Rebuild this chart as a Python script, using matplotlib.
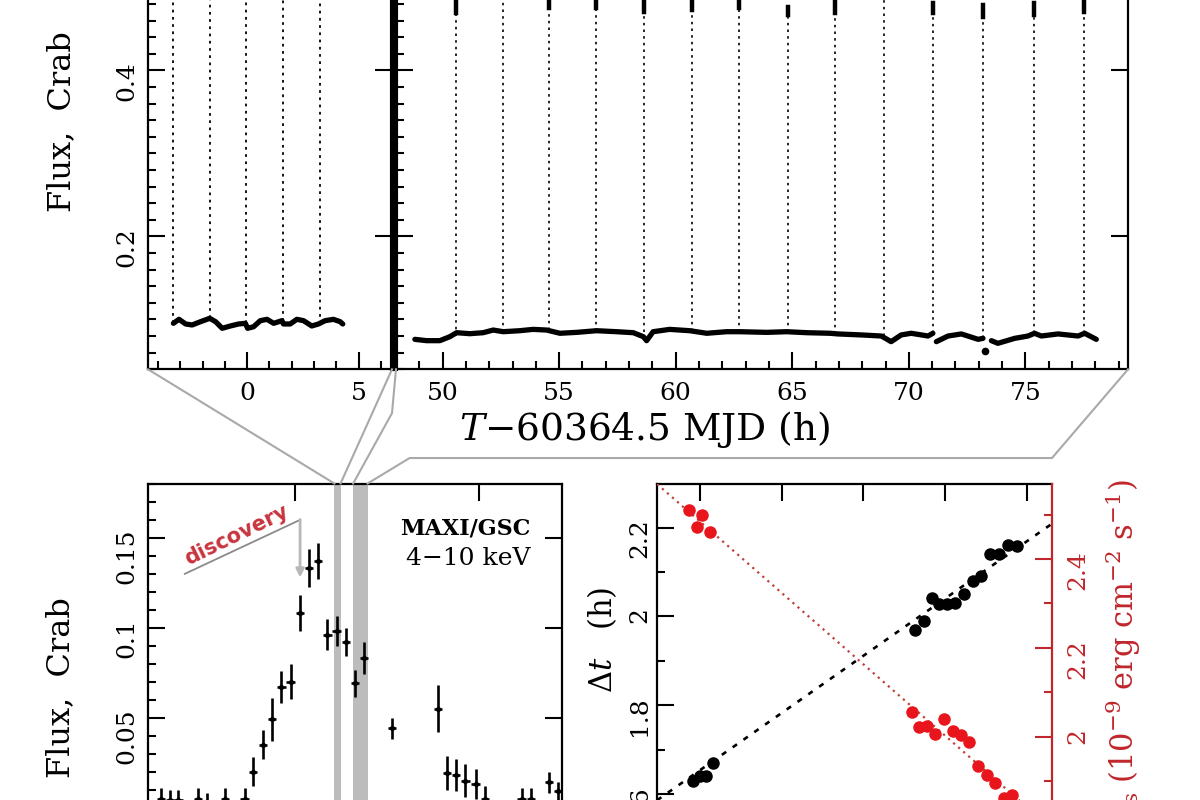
"""Burst train zoom (top) + MAXI light curve and burst recurrence (bottom)."""
import numpy as np
import matplotlib
matplotlib.use("Agg")
import matplotlib.pyplot as plt
from matplotlib.lines import Line2D
from matplotlib.ticker import MultipleLocator, FormatStrFormatter

plt.rcParams['font.family'] = ['DejaVu Serif']
plt.rcParams['mathtext.fontset'] = 'dejavuserif'

# ---- top: persistent flux between bursts (T - 60364.5 MJD, hours; Crab) ----
pers_t_left = [-3.31, -3.06, -2.76, -2.47, -2.09, -1.68, -1.42, -1.12, -0.75, -0.38,
               -0.08, 0.02, 0.29, 0.59, 0.89, 1.19, 1.56, 1.63, 1.93, 2.23,
               2.53, 2.90, 3.20, 3.50, 3.87, 4.17, 4.29]
pers_f_left = [0.0954, 0.1002, 0.0946, 0.0934, 0.0974, 0.1014, 0.0974, 0.0894, 0.0922, 0.0946,
               0.0954, 0.0894, 0.0913, 0.0986, 0.1002, 0.0954, 0.0986, 0.0946, 0.0946, 0.1002,
               0.0986, 0.0922, 0.0946, 0.0986, 0.1002, 0.0974, 0.0946]

pers_t_right = [48.81, 49.31, 49.88, 50.31, 50.60, 51.17, 51.74, 52.17, 52.60, 53.31,
                53.88, 54.46, 55.03, 55.75, 56.60, 57.46, 58.18, 58.61, 58.75, 59.03,
                59.74, 60.60, 61.33, 62.18, 62.76, 63.90, 64.76, 65.62, 66.62, 66.96,
                67.96, 68.82, 69.24, 69.67, 70.10, 70.82, 71.03, np.nan, 71.18, 71.68,
                72.25, 72.97, 73.18, np.nan, 73.54, 73.82, 74.54, 75.11, 75.39, 75.68,
                76.40, 77.26, 77.54, 78.04]
pers_f_right = [0.0761, 0.0745, 0.0745, 0.0793, 0.0841, 0.0829, 0.0841, 0.0873, 0.0853, 0.0865,
                0.0881, 0.0873, 0.0834, 0.0845, 0.0865, 0.0853, 0.0841, 0.0793, 0.0745, 0.0853,
                0.0881, 0.0865, 0.0834, 0.0853, 0.0853, 0.0845, 0.0853, 0.0841, 0.0834, 0.0826,
                0.0814, 0.0801, 0.0733, 0.0814, 0.0834, 0.0801, 0.0834, np.nan, 0.0733, 0.0801,
                0.0826, 0.0761, 0.0773, np.nan, 0.0745, 0.0713, 0.0773, 0.0801, 0.0834, 0.0801,
                0.0826, 0.0801, 0.0834, 0.0761]
outlier_t = [73.25]
outlier_f = [0.0624]

# bursts: onset time, flux at onset, peak, lower end of the peak plateau
burst_t_left = [-3.31, -1.69, -0.05, 1.59, 3.26]
burst_base_left = [0.0954, 0.1014, 0.0954, 0.0986, 0.0946]
burst_peak_left = [0.56, 0.55, 0.56, 0.55, 0.56]

burst_t_right = [50.59, 52.60, 54.58, 56.57, 58.65, 60.69, 62.73, 64.80, 66.83, 68.92,
                 71.04, 73.20, 75.36, 77.50]
burst_base_right = [0.0800, 0.0853, 0.0870, 0.0865, 0.0850, 0.0865, 0.0853, 0.0853, 0.0830, 0.0800,
                    0.0834, 0.0773, 0.0834, 0.0834]
burst_peak_right = [0.483, 0.530, 0.490, 0.490, 0.483, 0.488, 0.490, 0.477, 0.483, 0.520,
                    0.481, 0.479, 0.481, 0.483]
burst_plateau_right = [0.469, np.nan, 0.475, 0.475, 0.471, 0.473, 0.475, 0.467, 0.469, np.nan,
                       0.469, 0.465, 0.467, 0.471]

# ---- bottom left: MAXI/GSC 4-10 keV daily light curve ----
maxi_mjd = [60345.4, 60346.4, 60347.3, 60349.4, 60350.4, 60352.4, 60354.5, 60355.4, 60356.5, 60357.5,
            60358.5, 60359.5, 60360.5, 60361.5, 60362.5, 60363.5, 60364.5, 60365.5, 60366.5, 60367.5,
            60370.5, 60375.5, 60376.5, 60377.5, 60378.5, 60379.6, 60380.6, 60384.6, 60385.6, 60387.6,
            60388.6]
maxi_flux = [0.005, 0.004, 0.004, 0.005, 0.002, 0.005, 0.005, 0.020, 0.035, 0.049,
             0.067, 0.070, 0.108, 0.133, 0.137, 0.096, 0.098, 0.092, 0.069, 0.083,
             0.044, 0.055, 0.019, 0.018, 0.015, 0.013, 0.005, 0.005, 0.005, 0.014,
             0.009]
maxi_err = [0.006, 0.006, 0.006, 0.006, 0.006, 0.006, 0.006, 0.008, 0.008, 0.012,
            0.009, 0.0095, 0.010, 0.0105, 0.010, 0.0087, 0.0085, 0.008, 0.0076, 0.009,
            0.006, 0.013, 0.0095, 0.009, 0.009, 0.0085, 0.007, 0.006, 0.006, 0.006,
            0.005]
maxi_half_bin = 0.45
band_lo = [60364.26, 60366.30]
band_hi = [60364.93, 60367.87]
discovery_mjd = 60360.53

# ---- bottom right: recurrence time and persistent flux ----
dt_t = [-1.62, 0.00, 1.39, 3.18, 52.63, 54.69, 56.72, 58.51, 60.39, 62.35,
        64.63, 66.83, 68.71, 71.00, 73.19, 75.24, 77.45]
dt_h = [1.629, 1.641, 1.641, 1.669, 1.970, 1.990, 2.041, 2.028, 2.028, 2.030,
        2.050, 2.080, 2.091, 2.141, 2.141, 2.161, 2.159]
fp_t = [-2.69, -0.81, 0.58, 2.45, 51.75, 53.61, 55.50, 57.45, 59.73, 61.78,
        63.82, 65.85, 68.05, 70.10, 72.14, 74.42, 76.23]
fp = [2.510, 2.473, 2.499, 2.461, 2.056, 2.021, 2.024, 2.007, 2.039, 2.013,
      2.004, 1.989, 1.934, 1.914, 1.896, 1.861, 1.868]
fit_t = [-10.5, 86.0]
dt_fit = [1.586, 2.208]
fp_fit = [2.569, 1.793]

RED = "#e8161c"
DRED = "#c0262b"
W, H = 1200, 800
TICK_FS = 18


def px_axes(left, right, top, height):
    return [left / W, (H - top - height) / H, (right - left) / W, height / H]


def style(ax):
    for s in ax.spines.values():
        s.set_linewidth(1.6)
    ax.tick_params(which="both", direction="in", width=1.5, labelsize=TICK_FS)
    ax.tick_params(which="major", length=12)
    ax.tick_params(which="minor", length=6)


fig = plt.figure(figsize=(12, 8), dpi=100)
ax_tl = fig.add_axes(px_axes(148, 392, -128.7, 498))
ax_tr = fig.add_axes(px_axes(396, 1128, -128.7, 498))
ax_bl = fig.add_axes(px_axes(148, 562, 483.5, 414))
ax_br = fig.add_axes(px_axes(657, 1052, 484, 414))

# (a) top panels: bursts around T=0 and two days later
for ax in (ax_tl, ax_tr):
    style(ax)
    ax.set_ylim(0.04, 0.64)
    ax.yaxis.set_major_locator(MultipleLocator(0.2))
    ax.yaxis.set_minor_locator(MultipleLocator(0.02))
    ax.xaxis.set_major_locator(MultipleLocator(5))
    ax.xaxis.set_minor_locator(MultipleLocator(1))
    ax.yaxis.set_major_formatter(FormatStrFormatter("%g"))
    ax.tick_params(axis="x", pad=9)

ax_tl.set_xlim(-4.45, 6.5)
ax_tl.tick_params(axis="y", labelrotation=90, left=True, right=True, pad=7)
ax_tl.spines["right"].set_linewidth(3)
for t, b, p in zip(burst_t_left, burst_base_left, burst_peak_left):
    ax_tl.plot([t, t], [b, p], color="k", lw=1.3, ls=(0, (1.5, 2.5)))
ax_tl.plot(pers_t_left, pers_f_left, color="k", lw=3.8,
           solid_capstyle="round", solid_joinstyle="round")

ax_tr.set_xlim(48.0, 79.4)
ax_tr.tick_params(axis="y", left=True, right=True, labelleft=False)
ax_tr.spines["left"].set_linewidth(3)
for t, b, p, lo in zip(burst_t_right, burst_base_right, burst_peak_right, burst_plateau_right):
    ax_tr.plot([t, t], [b, p], color="k", lw=1.2, ls=(0, (1.5, 2.5)))
    if not np.isnan(lo):
        ax_tr.plot([t, t], [lo, p], color="k", lw=3.2)
ax_tr.plot(pers_t_right, pers_f_right, color="k", lw=3.8,
           solid_capstyle="round", solid_joinstyle="round")
ax_tr.plot(outlier_t, outlier_f, "o", color="k", ms=4.5)

ax_tl.text(-0.352, 0.497, "Flux,  Crab", transform=ax_tl.transAxes, rotation=90,
           ha="center", va="center", fontsize=23)
fig.text(645 / W, (H - 430) / H, r"$T$" + "\u221260364.5 MJD (h)",
         ha="center", va="center", fontsize=27)

# (b) bottom-left: MAXI light curve
style(ax_bl)
ax_bl.set_xlim(60344, 60389)
ax_bl.set_ylim(-0.05, 0.18)
ax_bl.xaxis.set_major_locator(MultipleLocator(20))
ax_bl.xaxis.set_minor_locator(MultipleLocator(2))
ax_bl.yaxis.set_major_locator(MultipleLocator(0.05))
ax_bl.yaxis.set_minor_locator(MultipleLocator(0.01))
ax_bl.yaxis.set_major_formatter(FormatStrFormatter("%g"))
ax_bl.tick_params(axis="y", labelrotation=90, left=True, right=True, pad=7)
ax_bl.tick_params(axis="x", top=True, bottom=True)
for lo, hi in zip(band_lo, band_hi):
    ax_bl.axvspan(lo, hi, color="#bcbcbc", lw=0, zorder=0)
ax_bl.errorbar(maxi_mjd, maxi_flux, yerr=maxi_err, xerr=maxi_half_bin, fmt="o",
               ms=2.8, color="k", elinewidth=1.9, capsize=0, zorder=3)
ax_bl.plot([60348.0, discovery_mjd], [0.1298, 0.1598], color="#8a8a8a", lw=1.3)
ax_bl.annotate("", xy=(discovery_mjd, 0.1278), xytext=(discovery_mjd, 0.1600),
               arrowprops=dict(arrowstyle="-|>", color="#b8b8b8", lw=2,
                               mutation_scale=12, shrinkA=0, shrinkB=0))
ax_bl.text(60353.6, 0.1515, "discovery", rotation=26, ha="center", va="center",
           color="#c9343e", fontsize=15, fontweight="bold", family="DejaVu Sans")
ax_bl.text(0.925, 0.917, "MAXI/GSC", transform=ax_bl.transAxes, ha="right", va="top",
           fontsize=16, fontweight="bold")
ax_bl.text(0.925, 0.847, "4\u221210 keV", transform=ax_bl.transAxes, ha="right", va="top",
           fontsize=18)
ax_bl.text(-0.210, 0.506, "Flux,  Crab", transform=ax_bl.transAxes, rotation=90,
           ha="center", va="center", fontsize=23)

# (c) bottom-right: recurrence time and persistent flux vs time
style(ax_br)
ax_br.set_xlim(-10.5, 86.1)
ax_br.set_ylim(1.366, 2.298)
ax_br.xaxis.set_major_locator(MultipleLocator(20))
ax_br.xaxis.set_minor_locator(MultipleLocator(4))
ax_br.yaxis.set_major_locator(MultipleLocator(0.2))
ax_br.yaxis.set_minor_locator(MultipleLocator(0.1))
ax_br.yaxis.set_major_formatter(FormatStrFormatter("%g"))
ax_br.tick_params(axis="x", top=True, bottom=True)
ax_br.tick_params(axis="y", labelrotation=90, pad=4)
ax_br.plot(fit_t, dt_fit, color="k", lw=1.9, ls=(0, (2, 3)))
ax_br.plot(dt_t, dt_h, "o", color="k", ms=8)
ax_br.text(-0.138, 0.623, r"$\Delta t$   (h)", transform=ax_br.transAxes, rotation=90,
           ha="center", va="center", fontsize=22)

ax_r = ax_br.twinx()
ax_r.set_ylim(1.637, 2.569)
for s in ax_r.spines.values():
    s.set_linewidth(1.6)
ax_r.spines["left"].set_visible(False)
ax_r.spines["top"].set_visible(False)
ax_r.spines["bottom"].set_visible(False)
ax_r.spines["right"].set_color(DRED)
ax_br.spines["right"].set_visible(False)
ax_r.yaxis.set_major_locator(MultipleLocator(0.2))
ax_r.yaxis.set_minor_locator(MultipleLocator(0.1))
ax_r.yaxis.set_major_formatter(FormatStrFormatter("%g"))
ax_r.tick_params(axis="y", which="both", direction="in", width=1.5, colors=DRED,
                 labelsize=TICK_FS, labelrotation=90, pad=10)
ax_r.tick_params(axis="y", which="major", length=12)
ax_r.tick_params(axis="y", which="minor", length=6)
ax_r.plot(fit_t, fp_fit, color="#c0403a", lw=1.6, ls=(0, (1, 2)))
ax_r.plot(fp_t, fp, "o", color=RED, ms=8)
ax_r.text(1.18, 1.01, r"$F_{\rm pers}$ (10$^{-9}$ erg cm$^{-2}$ s$^{-1}$)",
          transform=ax_r.transAxes, rotation=90, ha="center", va="top",
          color=DRED, fontsize=22)


# connectors from the zoomed panels down to the shaded MAXI intervals
def fig_pt(ax, x, y, data=False):
    tr = ax.transData if data else ax.transAxes
    return fig.transFigure.inverted().transform(tr.transform((x, y)))


ytop = ax_bl.get_ylim()[1]
p1, q1 = fig_pt(ax_tl, 0, 0), fig_pt(ax_bl, band_lo[0], ytop, True)
p2, q2 = fig_pt(ax_tl, 1, 0), fig_pt(ax_bl, band_hi[0], ytop, True)
p3, q3 = fig_pt(ax_tr, 0, 0), fig_pt(ax_bl, band_lo[1], ytop, True)
p4, q4 = fig_pt(ax_tr, 1, 0), fig_pt(ax_bl, band_hi[1], ytop, True)
gap0, gap1 = p1[1], q1[1]
yb1 = gap0 + 0.384 * (gap1 - gap0)
yb2 = gap0 + 0.777 * (gap1 - gap0)
x_br_right = fig_pt(ax_br, 1, 1)[0]
paths = [
    [p1, q1],
    [p2, q2],
    [p3, (p3[0] - 4 / W, yb1), q3],
    [p4, (x_br_right, yb2), (q4[0] + 42 / W, yb2), q4],
]
for path in paths:
    xs, ys = zip(*path)
    fig.add_artist(Line2D(xs, ys, transform=fig.transFigure, color="#a9a9a9", lw=1.5))

fig.savefig("out.png", dpi=100)
